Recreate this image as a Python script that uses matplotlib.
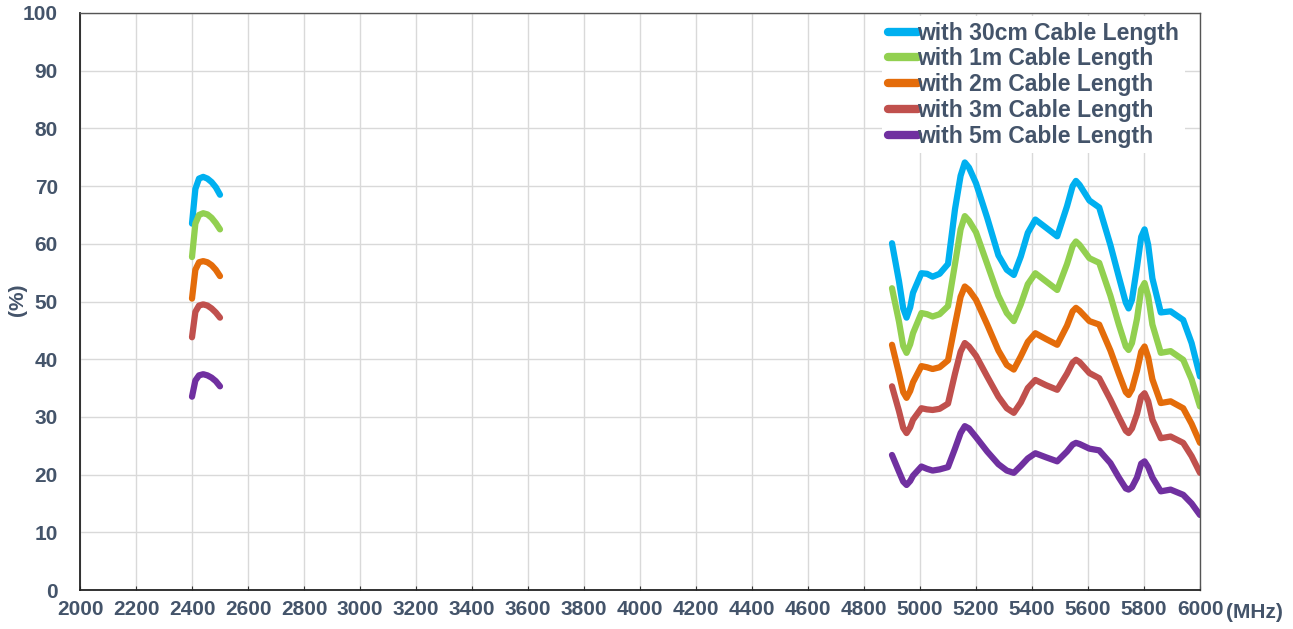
import matplotlib
matplotlib.use("Agg")
import matplotlib.pyplot as plt

# ---------------- data ----------------
freq_24 = [2400, 2412, 2425, 2440, 2455, 2470, 2485, 2500]
b24_30cm = [63.5, 69.5, 71.3, 71.6, 71.3, 70.7, 69.8, 68.5]
b24_1m = [57.7, 63.5, 65.0, 65.3, 65.1, 64.5, 63.6, 62.5]
b24_2m = [50.5, 55.5, 56.8, 57.0, 56.8, 56.3, 55.5, 54.4]
b24_3m = [43.8, 48.2, 49.3, 49.5, 49.3, 48.8, 48.1, 47.2]
b24_5m = [33.5, 36.3, 37.2, 37.4, 37.2, 36.8, 36.2, 35.3]

freq_5 = [4900, 4925, 4940, 4952, 4965, 4975, 5005, 5025, 5045, 5070, 5100, 5125,
          5145, 5160, 5175, 5200, 5240, 5280, 5310, 5335, 5360, 5385, 5412, 5450,
          5490, 5525, 5545, 5557, 5570, 5605, 5640, 5680, 5710, 5735, 5745, 5757,
          5775, 5790, 5802, 5815, 5830, 5860, 5895, 5940, 5970, 6000]
b5_30cm = [60.1, 53.5, 48.8, 47.2, 49.0, 51.5, 54.9, 54.8, 54.3, 54.8, 56.5, 66.0,
           71.8, 74.1, 73.2, 70.5, 64.5, 58.0, 55.5, 54.6, 57.8, 61.9, 64.2, 62.8,
           61.3, 66.5, 70.0, 70.9, 70.2, 67.5, 66.3, 59.8, 54.3, 49.8, 48.8, 50.3,
           56.0, 61.2, 62.5, 59.8, 54.0, 48.1, 48.3, 46.8, 42.8, 37.0]
b5_1m = [52.3, 46.5, 42.3, 41.1, 42.6, 44.5, 48.0, 47.8, 47.4, 47.8, 49.2, 56.5,
         62.5, 64.8, 64.0, 62.0, 56.5, 51.0, 48.0, 46.6, 49.5, 53.0, 54.9, 53.5,
         52.0, 56.5, 59.6, 60.4, 59.8, 57.5, 56.7, 51.0, 46.0, 42.2, 41.6, 42.8,
         47.0, 52.1, 53.2, 50.9, 46.0, 41.1, 41.4, 39.9, 36.5, 31.8]
b5_2m = [42.5, 37.5, 34.3, 33.3, 34.5, 36.0, 38.8, 38.6, 38.3, 38.6, 39.8, 46.0,
         50.8, 52.6, 52.0, 50.3, 46.0, 41.5, 39.0, 38.2, 40.5, 43.0, 44.5, 43.5,
         42.5, 45.8, 48.3, 48.9, 48.4, 46.6, 46.0, 41.5, 37.5, 34.3, 33.8, 34.8,
         38.0, 41.3, 42.2, 40.3, 36.5, 32.4, 32.7, 31.5, 28.8, 25.5]
b5_3m = [35.3, 31.0, 28.1, 27.2, 28.2, 29.5, 31.5, 31.3, 31.2, 31.4, 32.3, 37.5,
         41.3, 42.8, 42.2, 40.6, 37.0, 33.5, 31.5, 30.7, 32.5, 35.0, 36.4, 35.5,
         34.7, 37.5, 39.4, 39.9, 39.5, 37.6, 36.7, 33.0, 30.0, 27.6, 27.2, 28.0,
         30.5, 33.5, 34.1, 32.7, 29.5, 26.3, 26.6, 25.5, 23.2, 20.3]
b5_5m = [23.4, 20.5, 18.8, 18.2, 18.9, 19.8, 21.4, 21.0, 20.7, 20.9, 21.3, 24.5,
         27.2, 28.4, 28.0, 26.5, 24.0, 21.8, 20.7, 20.3, 21.5, 22.8, 23.7, 23.0,
         22.3, 24.0, 25.2, 25.5, 25.3, 24.5, 24.2, 22.0, 19.5, 17.6, 17.4, 17.8,
         19.5, 21.9, 22.3, 21.3, 19.5, 17.1, 17.4, 16.5, 15.0, 13.0]

labels = ["with 30cm Cable Length", "with 1m Cable Length", "with 2m Cable Length",
          "with 3m Cable Length", "with 5m Cable Length"]
colors = ["#00B0F0", "#92D050", "#E46C0A", "#C0504D", "#7030A0"]
x_ticks = list(range(2000, 6001, 200))
y_ticks = list(range(0, 101, 10))

# ---------------- plot ----------------
plt.rcParams['font.family'] = ['Liberation Sans', 'DejaVu Sans']
text_color = "#44546A"

fig = plt.figure(figsize=(12.93, 6.29), dpi=100)
ax = fig.add_axes([80 / 1293, 1 - 590 / 629, 1120 / 1293, (590 - 13) / 629])

series_24 = [b24_30cm, b24_1m, b24_2m, b24_3m, b24_5m]
series_5 = [b5_30cm, b5_1m, b5_2m, b5_3m, b5_5m]
for s24, s5, c, lab in zip(series_24, series_5, colors, labels):
    ax.plot(freq_24, s24, color=c, lw=4.5, solid_capstyle='round',
            solid_joinstyle='round', label=lab)
    ax.plot(freq_5, s5, color=c, lw=4.5, solid_capstyle='round',
            solid_joinstyle='round')

ax.set_xlim(2000, 6000)
ax.set_ylim(0, 100)
ax.set_xticks(x_ticks)
ax.set_yticks(y_ticks)
ax.grid(True, color="#D9D9D9", lw=1)
ax.set_axisbelow(True)
for side in ['left', 'bottom']:
    ax.spines[side].set_color('#222222')
    ax.spines[side].set_linewidth(1.3)
for side in ['top', 'right']:
    ax.spines[side].set_color('#555555')
    ax.spines[side].set_linewidth(1.0)

ax.tick_params(axis='x', direction='in', length=3, color='#333333',
               labelsize=15, labelcolor=text_color, pad=7)
ax.tick_params(axis='y', length=0, labelsize=15, labelcolor=text_color, pad=16)
for t in ax.get_xticklabels() + ax.get_yticklabels():
    t.set_fontweight('bold')

fig.text(1226 / 1293, 1 - 612 / 629, "(MHz)", ha='left', va='center',
         fontsize=15, fontweight='bold', color=text_color)
fig.text(18 / 1293, 1 - 300 / 629, "(%)", ha='center', va='center', rotation=90,
         fontsize=15, fontweight='bold', color=text_color)

leg = ax.legend(loc='upper left', bbox_to_anchor=((882 - 80) / 1120, 0.995),
                frameon=True, fancybox=False, edgecolor='none', facecolor='white',
                framealpha=1, handlelength=1.3, handletextpad=0.0,
                labelspacing=0.12, borderpad=0.25, borderaxespad=0.0,
                prop={'size': 16.5, 'weight': 'bold'})
for t in leg.get_texts():
    t.set_color(text_color)
for h in leg.get_lines():
    h.set_linewidth(6)

fig.savefig("out.png", dpi=100)
